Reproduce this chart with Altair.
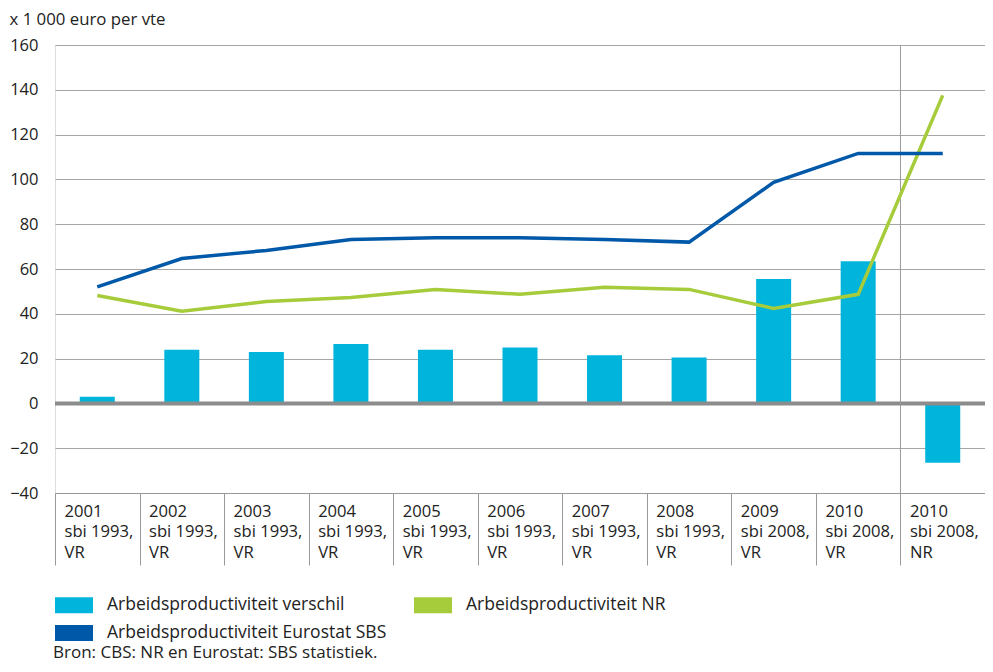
import altair as alt
import pandas as pd

categories = [
    "2001|sbi 1993,|VR", "2002|sbi 1993,|VR", "2003|sbi 1993,|VR", "2004|sbi 1993,|VR",
    "2005|sbi 1993,|VR", "2006|sbi 1993,|VR", "2007|sbi 1993,|VR", "2008|sbi 1993,|VR",
    "2009|sbi 2008,|VR", "2010|sbi 2008,|VR", "2010|sbi 2008,|NR",
]
verschil = [3, 24, 23, 26.5, 24, 25, 21.5, 20.5, 55.5, 63.5, -26.5]
eurostat = [52, 64.7, 68.3, 73.2, 74, 74, 73.2, 72, 98.7, 111.6, 111.6]
nr = [48.2, 41.1, 45.5, 47.3, 50.9, 48.7, 51.8, 50.9, 42.4, 48.7, 137.5]

s_verschil = "Arbeidsproductiviteit verschil"
s_nr = "Arbeidsproductiviteit NR"
s_euro = "Arbeidsproductiviteit Eurostat SBS"
series_names = [s_verschil, s_nr, s_euro]
series_colors = ["#00b4dc", "#a6cc3c", "#0058a8"]

y_ticks = [-40, -20, 0, 20, 40, 60, 80, 100, 120, 140, 160]

rows = []
for i, c in enumerate(categories):
    rows.append({"cat": c, "order": i, "series": s_verschil, "value": verschil[i]})
    rows.append({"cat": c, "order": i, "series": s_nr, "value": nr[i]})
    rows.append({"cat": c, "order": i, "series": s_euro, "value": eurostat[i]})
df = pd.DataFrame(rows)

FONT = "Open Sans"
W, H = 930, 448
band = W / len(categories)

x_enc = alt.X(
    "cat:N",
    sort=categories,
    scale=alt.Scale(domain=categories, paddingInner=0, paddingOuter=0),
    axis=alt.Axis(
        title=None,
        labelExpr="split(datum.label, '|')",
        labelAlign="left",
        labelBaseline="top",
        labelOffset=-(band / 2 - 9),
        labelPadding=-62,
        labelLineHeight=20.5,
        labelAngle=0,
        labelFontSize=16.6,
        labelFont=FONT,
        labelColor="#222222",
        labelLimit=200,
        labelOverlap=False,
        labelFlush=False,
        tickBand="extent",
        tickSize=72,
        tickColor="#999999",
        tickWidth=1,
        domainColor="#999999",
        domainWidth=1,
        grid=False,
    ),
)

y_scale = alt.Scale(domain=[-40, 160], nice=False, zero=False)
y_enc = alt.Y(
    "value:Q",
    scale=y_scale,
    axis=alt.Axis(
        values=y_ticks,
        title="x 1 000 euro per vte",
        titleAngle=0,
        titleAlign="left",
        titleBaseline="middle",
        titleX=-46,
        titleY=-26,
        titleFont=FONT,
        titleFontSize=16.8,
        titleFontWeight="normal",
        titleColor="#222222",
        labelFont=FONT,
        labelFontSize=16.5,
        labelColor="#222222",
        labelPadding=17,
        domain=False,
        ticks=False,
        grid=True,
        gridColor="#a6a6a6",
        gridWidth=1,
    ),
)

base = alt.Chart(df)

bars = base.transform_filter(alt.datum.series == s_verschil).mark_bar(size=35).encode(
    x=x_enc,
    y=y_enc,
    color=alt.Color(
        "series:N",
        scale=alt.Scale(domain=series_names, range=series_colors),
        legend=alt.Legend(
            title=None,
            orient="none",
            direction="horizontal",
            legendX=0,
            legendY=541,
            columns=2,
            symbolType="M-1,-0.42H1V0.42H-1Z",
            symbolSize=1444,
            symbolStrokeWidth=0,
            labelFont=FONT,
            labelFontSize=17.5,
            labelColor="#222222",
            labelOffset=14,
            columnPadding=27,
            rowPadding=0,
            labelLimit=400,
        ),
    ),
)

zero = alt.Chart(pd.DataFrame({"value": [0]})).mark_rule(
    color="#8c8c8c", strokeWidth=4
).encode(y=alt.Y("value:Q", scale=y_scale))

sep = alt.Chart(
    pd.DataFrame({"cat": [categories[-1]], "top": [160], "bottom": [-40]})
).mark_rule(color="#999999", strokeWidth=1).encode(
    x=alt.X("cat:N", bandPosition=0, scale=alt.Scale(domain=categories)),
    y=alt.Y("top:Q", scale=y_scale),
    y2="bottom:Q",
)

lines = base.transform_filter(alt.datum.series != s_verschil).mark_line(
    strokeWidth=3.5
).encode(
    x=alt.X("cat:N", sort=categories),
    y=alt.Y("value:Q"),
    color=alt.Color(
        "series:N",
        scale=alt.Scale(domain=[s_nr, s_euro], range=series_colors[1:]),
        legend=None,
    ),
    order="order:Q",
)

chart = (
    alt.layer(bars, zero, sep, lines)
    .resolve_scale(color="independent")
    .properties(
        width=W,
        height=H,
        autosize=alt.AutoSizeParams(type="none"),
        padding={"left": 47, "top": 37, "right": 0, "bottom": 171},
        title=alt.TitleParams(
            text="Bron: CBS: NR en Eurostat: SBS statistiek.",
            orient="bottom",
            anchor="start",
            frame="group",
            dx=-2,
            offset=16,
            font=FONT,
            fontSize=17,
            fontWeight="normal",
            color="#222222",
            baseline="alphabetic",
        ),
    )
    .configure_view(stroke=None)
    .configure(background="white")
)

chart.save("out.html", embed_options={"renderer": "svg", "actions": False})
